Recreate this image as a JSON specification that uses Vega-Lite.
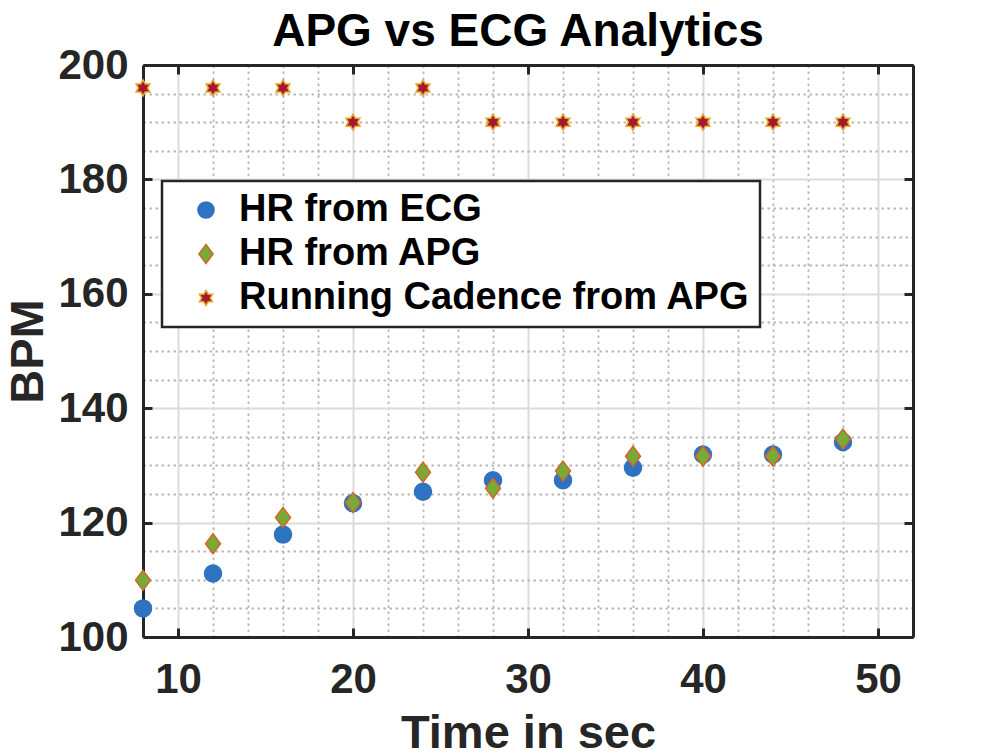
{
  "$schema": "https://vega.github.io/schema/vega-lite/v6.json",
  "autosize": "none",
  "padding": {"left": 143, "top": 65, "right": 95, "bottom": 119},
  "width": 770,
  "height": 572,
  "background": "white",
  "title": {
    "text": "APG vs ECG Analytics",
    "font": "Liberation Sans",
    "fontSize": 46,
    "fontWeight": "bold",
    "color": "#000000",
    "anchor": "middle",
    "frame": "group",
    "dx": -10,
    "dy": 20,
    "offset": 8
  },
  "data": {
    "values": [
      {"series": "HR from ECG", "t": 8, "bpm": 105.0},
      {"series": "HR from ECG", "t": 12, "bpm": 111.1},
      {"series": "HR from ECG", "t": 16, "bpm": 117.9},
      {"series": "HR from ECG", "t": 20, "bpm": 123.4},
      {"series": "HR from ECG", "t": 24, "bpm": 125.4},
      {"series": "HR from ECG", "t": 28, "bpm": 127.4},
      {"series": "HR from ECG", "t": 32, "bpm": 127.4},
      {"series": "HR from ECG", "t": 36, "bpm": 129.6},
      {"series": "HR from ECG", "t": 40, "bpm": 131.9},
      {"series": "HR from ECG", "t": 44, "bpm": 131.9},
      {"series": "HR from ECG", "t": 48, "bpm": 134.1},
      {"series": "HR from APG", "t": 8, "bpm": 109.9},
      {"series": "HR from APG", "t": 12, "bpm": 116.3},
      {"series": "HR from APG", "t": 16, "bpm": 120.9},
      {"series": "HR from APG", "t": 20, "bpm": 123.5},
      {"series": "HR from APG", "t": 24, "bpm": 128.8},
      {"series": "HR from APG", "t": 28, "bpm": 126.0},
      {"series": "HR from APG", "t": 32, "bpm": 129.0},
      {"series": "HR from APG", "t": 36, "bpm": 131.6},
      {"series": "HR from APG", "t": 40, "bpm": 131.6},
      {"series": "HR from APG", "t": 44, "bpm": 131.6},
      {"series": "HR from APG", "t": 48, "bpm": 134.6},
      {"series": "Running Cadence from APG", "t": 8, "bpm": 196},
      {"series": "Running Cadence from APG", "t": 12, "bpm": 196},
      {"series": "Running Cadence from APG", "t": 16, "bpm": 196},
      {"series": "Running Cadence from APG", "t": 20, "bpm": 190},
      {"series": "Running Cadence from APG", "t": 24, "bpm": 196},
      {"series": "Running Cadence from APG", "t": 28, "bpm": 190},
      {"series": "Running Cadence from APG", "t": 32, "bpm": 190},
      {"series": "Running Cadence from APG", "t": 36, "bpm": 190},
      {"series": "Running Cadence from APG", "t": 40, "bpm": 190},
      {"series": "Running Cadence from APG", "t": 44, "bpm": 190},
      {"series": "Running Cadence from APG", "t": 48, "bpm": 190}
    ]
  },
  "layer": [
    {
      "mark": {"type": "point", "filled": true, "size": 400, "strokeWidth": 1.5, "opacity": 1},
      "encoding": {
        "x": {
          "field": "t",
          "type": "quantitative",
          "title": "Time in sec",
          "scale": {"domain": [8, 52], "nice": false, "zero": false},
          "axis": {
            "orient": "bottom",
            "values": [8, 10, 12, 14, 16, 18, 20, 22, 24, 26, 28, 30, 32, 34, 36, 38, 40, 42, 44, 46, 48, 50, 52],
            "labelExpr": "datum.value % 10 === 0 ? datum.label : ''",
            "labelOverlap": false,
            "labelFlush": false,
            "labelPadding": 31,
            "tickSize": -9,
            "tickWidth": 3,
            "tickColor": "#262626",
            "tickOpacity": {"condition": {"test": "datum.value % 10 === 0", "value": 1}, "value": 0},
            "grid": true,
            "gridColor": {"condition": {"test": "datum.value % 10 === 0", "value": "#DCDCDC"}, "value": "#B8B8B8"},
            "gridDash": {"condition": {"test": "datum.value % 10 === 0", "value": []}, "value": [2.5, 3.5]},
            "gridWidth": {"condition": {"test": "datum.value % 10 === 0", "value": 2}, "value": 1.8},
            "titlePadding": 10
          }
        },
        "y": {
          "field": "bpm",
          "type": "quantitative",
          "title": "BPM",
          "scale": {"domain": [100, 200], "nice": false, "zero": false},
          "axis": {
            "orient": "left",
            "values": [100, 105, 110, 115, 120, 125, 130, 135, 140, 145, 150, 155, 160, 165, 170, 175, 180, 185, 190, 195, 200],
            "labelExpr": "datum.value % 20 === 0 ? datum.label : ''",
            "labelOverlap": false,
            "labelFlush": false,
            "labelPadding": 24,
            "tickSize": -9,
            "tickWidth": 3,
            "tickColor": "#262626",
            "tickOpacity": {"condition": {"test": "datum.value % 20 === 0", "value": 1}, "value": 0},
            "grid": true,
            "gridColor": {"condition": {"test": "datum.value % 20 === 0", "value": "#DCDCDC"}, "value": "#B8B8B8"},
            "gridDash": {"condition": {"test": "datum.value % 20 === 0", "value": []}, "value": [2.5, 3.5]},
            "gridWidth": {"condition": {"test": "datum.value % 20 === 0", "value": 2}, "value": 1.8},
            "titlePadding": 5
          }
        },
        "color": {
          "field": "series",
          "type": "nominal",
          "title": null,
          "scale": {
            "domain": ["HR from ECG", "HR from APG", "Running Cadence from APG"],
            "range": ["#2E72C2", "#78AB35", "#A3192F"]
          }
        },
        "stroke": {
          "field": "series",
          "type": "nominal",
          "title": null,
          "scale": {
            "domain": ["HR from ECG", "HR from APG", "Running Cadence from APG"],
            "range": ["#2E72C2", "#D2662A", "#E8A72A"]
          }
        },
        "shape": {
          "field": "series",
          "type": "nominal",
          "title": null,
          "scale": {
            "domain": ["HR from ECG", "HR from APG", "Running Cadence from APG"],
            "range": [
              "M0.85,0A0.85,0.85,0,1,1,-0.85,0A0.85,0.85,0,1,1,0.85,0Z",
              "M0,-1L0.75,0L0,1L-0.75,0Z",
              "M0,-0.8L0.231,-0.4L0.693,-0.4L0.462,0L0.693,0.4L0.231,0.4L0,0.8L-0.231,0.4L-0.693,0.4L-0.462,0L-0.693,-0.4L-0.231,-0.4Z"
            ]
          }
        }
      }
    },
    {
      "mark": {"type": "point", "opacity": 0},
      "encoding": {
        "x": {
          "field": "t",
          "type": "quantitative",
          "axis": {
            "orient": "top",
            "title": null,
            "values": [10, 20, 30, 40, 50],
            "labels": false,
            "grid": false,
            "tickSize": -9,
            "tickWidth": 3,
            "tickColor": "#262626"
          }
        },
        "y": {
          "field": "bpm",
          "type": "quantitative",
          "axis": {
            "orient": "right",
            "title": null,
            "values": [100, 120, 140, 160, 180, 200],
            "labels": false,
            "grid": false,
            "tickSize": -9,
            "tickWidth": 3,
            "tickColor": "#262626"
          }
        }
      }
    }
  ],
  "resolve": {"axis": {"x": "independent", "y": "independent"}},
  "config": {
    "view": {"stroke": null},
    "axis": {
      "domainColor": "#262626",
      "domainWidth": 3,
      "labelFont": "Liberation Sans",
      "labelFontSize": 42,
      "labelFontWeight": "bold",
      "labelColor": "#262626",
      "titleFont": "Liberation Sans",
      "titleFontSize": 47,
      "titleFontWeight": "bold",
      "titleColor": "#262626"
    },
    "legend": {
      "orient": "none",
      "legendX": 19,
      "legendY": 116,
      "direction": "vertical",
      "padding": 10,
      "symbolOffset": 15,
      "fillColor": "white",
      "strokeColor": "#262626",
      "strokeWidth": 2.5,
      "labelFont": "Liberation Sans",
      "labelFontSize": 38,
      "labelFontWeight": "bold",
      "labelColor": "#000000",
      "labelOffset": 14,
      "labelLimit": 0,
      "rowPadding": 6,
      "symbolSize": 360,
      "symbolStrokeWidth": 1.5
    }
  }
}
